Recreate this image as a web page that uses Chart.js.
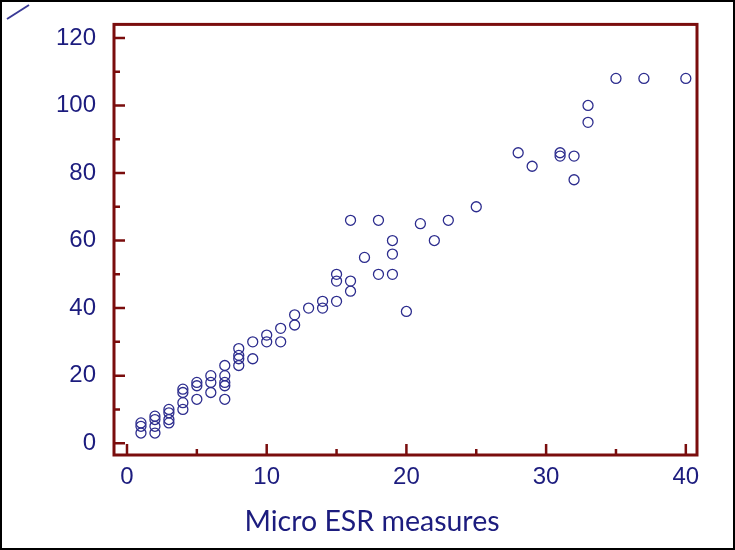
<!DOCTYPE html>
<html>
<head>
<meta charset="utf-8">
<script src="https://cdn.jsdelivr.net/npm/chart.js@4.4.1/dist/chart.umd.min.js"></script>
<style>
html, body { margin: 0; padding: 0; background: #fff; }
canvas { display: block; }
</style>
</head>
<body>
<canvas id="chart" width="735" height="550"></canvas>
<script>
// ----------------------------------------------------------------------
//  micro ESR vs reference ESR
// ----------------------------------------------------------------------
const microEsr = [
    1, 1, 1,
    2, 2, 2, 2,
    3, 3, 3, 3,
    4, 4, 4, 4,
    5, 5, 5,
    6, 6, 6,
    7, 7, 7, 7, 7,
    8, 8, 8, 8,
    9, 9,
    10, 10,
    11, 11,
    12, 12,
    13,
    14, 14,
    15, 15, 15,
    16, 16, 16,
    17,
    18, 18,
    19, 19, 19,
    20, 21, 22, 23, 25, 28, 29,
    31, 31,
    32, 32,
    33, 33,
    35, 37, 40
]
const refEsr = [
    6, 5, 3,
    8, 7, 5, 3,
    10, 9, 7, 6,
    16, 15, 12, 10,
    18, 17, 13,
    20, 18, 15,
    23, 20, 18, 17, 13,
    28, 26, 25, 23,
    30, 25,
    32, 30,
    34, 30,
    38, 35,
    40,
    42, 40,
    50, 48, 42,
    66, 48, 45,
    55,
    66, 50,
    60, 56, 50,
    39, 65, 60, 66, 70, 86, 82,
    86, 85,
    85, 78,
    100, 95,
    108, 108, 108
]
const xTicks = [0, 10, 20, 30, 40]
const yTicks = [0, 20, 40, 60, 80, 100, 120]
const xMinor = [5, 15, 25, 35]
const yMinor = [10, 30, 50, 70, 90, 110]
const xTitle = "Micro ESR measures"

// ----------------------------------------------------------------------
const navy = '#1c1c7e'
const dotColor = '#2d2d8e'
const axisColor = '#7a0d0d'

const framePlugin = {
    id: 'frame',
    beforeDraw (chart) {
        const ctx = chart.ctx
        ctx.save()
        ctx.fillStyle = '#fff'
        ctx.fillRect(0, 0, chart.width, chart.height)
        ctx.restore()
    },
    afterDraw (chart) {
        const ctx = chart.ctx
        const a = chart.chartArea
        const xs = chart.scales.x
        const ys = chart.scales.y
        ctx.save()

        // plot frame
        ctx.strokeStyle = axisColor
        ctx.lineWidth = 3
        ctx.strokeRect(a.left, a.top, a.right - a.left, a.bottom - a.top)

        // inward ticks
        ctx.lineWidth = 2.5
        ctx.beginPath()
        yTicks.forEach(v => {
            const p = ys.getPixelForValue(v)
            ctx.moveTo(a.left, p); ctx.lineTo(a.left + 11, p)
        })
        yMinor.forEach(v => {
            const p = ys.getPixelForValue(v)
            ctx.moveTo(a.left, p); ctx.lineTo(a.left + 6, p)
        })
        xTicks.forEach(v => {
            const p = xs.getPixelForValue(v)
            ctx.moveTo(p, a.bottom); ctx.lineTo(p, a.bottom - 11)
        })
        xMinor.forEach(v => {
            const p = xs.getPixelForValue(v)
            ctx.moveTo(p, a.bottom); ctx.lineTo(p, a.bottom - 6)
        })
        ctx.stroke()

        // axis title
        ctx.fillStyle = navy
        ctx.font = '28.5px Lato'
        ctx.textAlign = 'center'
        ctx.textBaseline = 'middle'
        ctx.fillText(xTitle, 372, 522)

        // corner mark
        ctx.strokeStyle = '#3a3a96'
        ctx.lineWidth = 2
        ctx.beginPath()
        ctx.moveTo(7, 19); ctx.lineTo(29, 5)
        ctx.stroke()

        // outer border
        ctx.strokeStyle = '#000'
        ctx.lineWidth = 2
        ctx.strokeRect(1, 1, chart.width - 2, chart.height - 2)
        ctx.restore()
    }
}

const tickFont = { family: "'Liberation Sans', Arial, sans-serif", size: 24 }

const config = {
    type: 'scatter',
    data: {
        datasets: [{
            data: microEsr.map((x, i) => ({ x: x, y: refEsr[i] })),
            pointStyle: 'circle',
            pointRadius: 5,
            borderWidth: 1.3,
            borderColor: dotColor,
            backgroundColor: 'rgba(0,0,0,0)'
        }]
    },
    options: {
        responsive: false,
        animation: false,
        devicePixelRatio: 1,
        layout: { padding: { top: 22, right: 38, left: 0, bottom: 0 } },
        plugins: { legend: { display: false }, tooltip: { enabled: false } },
        scales: {
            x: {
                type: 'linear',
                min: -0.93,
                max: 40.8,
                afterBuildTicks: s => { s.ticks = xTicks.map(v => ({ value: v })) },
                afterFit: s => { s.height = 95 },
                grid: { display: false },
                border: { display: false },
                ticks: { color: navy, font: tickFont, padding: 0, maxRotation: 0 }
            },
            y: {
                type: 'linear',
                min: -3.5,
                max: 124,
                afterBuildTicks: s => { s.ticks = yTicks.map(v => ({ value: v })) },
                afterFit: s => { s.width = 114 },
                grid: { display: false },
                border: { display: false },
                ticks: { color: navy, font: tickFont, padding: 10 }
            }
        }
    },
    plugins: [framePlugin]
}

const chart = new Chart(document.getElementById('chart'), config)
</script>
</body>
</html>
